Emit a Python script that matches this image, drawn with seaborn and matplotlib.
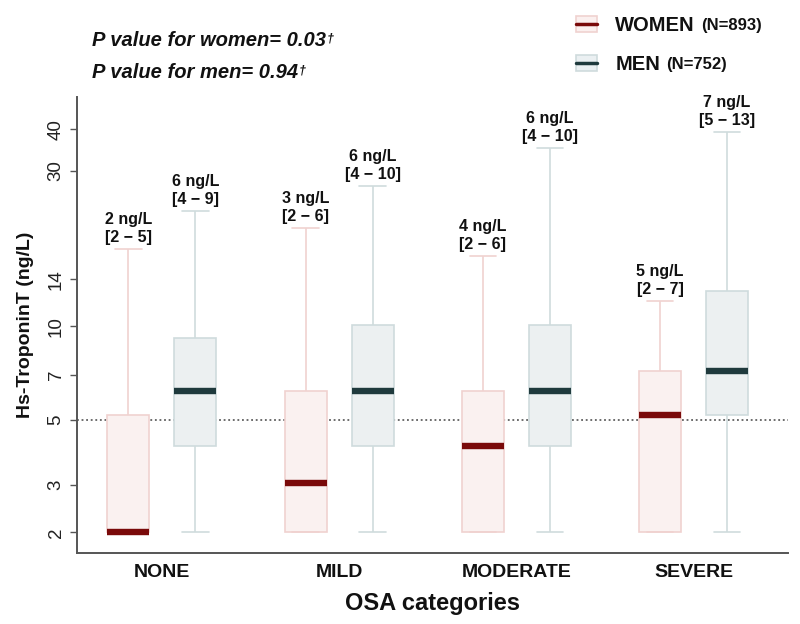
import numpy as np
import pandas as pd
import matplotlib
matplotlib.use("Agg")
import matplotlib.pyplot as plt
import seaborn as sns
from matplotlib.patches import Patch
from matplotlib.lines import Line2D
from matplotlib.legend_handler import HandlerTuple

# ---------------- data ----------------
categories = ["NONE", "MILD", "MODERATE", "SEVERE"]
groups = ["WOMEN", "MEN"]
group_n = ["(N=893)", "(N=752)"]

# five-number summaries (whisker low, Q1, median, Q3, whisker high), ng/L
women_low = [2, 2, 2, 2]
women_q1 = [2, 2, 2, 2]
women_med = [2, 3.05, 4.1, 5.2]
women_q3 = [5.2, 6.2, 6.2, 7.2]
women_high = [17.3, 20.1, 16.5, 12.0]

men_low = [2, 2, 2, 2]
men_q1 = [4.1, 4.1, 4.1, 5.2]
men_med = [6.2, 6.2, 6.2, 7.2]
men_q3 = [9.2, 10.1, 10.1, 12.9]
men_high = [22.7, 27.0, 35.2, 39.3]

women_labels = ["2 ng/L\n[2 \u2212 5]", "3 ng/L\n[2 \u2212 6]", "4 ng/L\n[2 \u2212 6]", "5 ng/L\n[2 \u2212 7]"]
men_labels = ["6 ng/L\n[4 \u2212 9]", "6 ng/L\n[4 \u2212 10]", "6 ng/L\n[4 \u2212 10]", "7 ng/L\n[5 \u2212 13]"]

y_ticks = [2, 3, 5, 7, 10, 14, 30, 40]
ref_line = 5
p_texts = ["P value for women= 0.03", "P value for men= 0.94"]

# ---------------- styling ----------------
sns.set_theme(style="white")
plt.rcParams["font.family"] = ["Liberation Sans", "DejaVu Sans"]

fill = {"WOMEN": "#fbf0ef", "MEN": "#ebf0f2"}
edge = {"WOMEN": "#f0d2d0", "MEN": "#cfdbdd"}
medc = {"WOMEN": "#7a0a0a", "MEN": "#1f3a3d"}
axis_col = "#555555"

rows = []
summ = {
    "WOMEN": (women_low, women_q1, women_med, women_q3, women_high),
    "MEN": (men_low, men_q1, men_med, men_q3, men_high),
}
for g in groups:
    cols = summ[g]
    for i, c in enumerate(categories):
        for arr in cols:
            rows.append({"category": c, "sex": g, "value": arr[i]})
df = pd.DataFrame(rows)

fig = plt.figure(figsize=(8, 6.24), dpi=100)
ax = fig.add_axes([77 / 800, 1 - 553 / 624, (788 - 77) / 800, (553 - 97) / 624])

BW = 0.756
GAP = 0.373
for g in groups:
    sub = df[df["sex"] == g]
    sns.boxplot(
        data=sub, x="category", y="value", hue="sex",
        order=categories, hue_order=groups, dodge=True,
        palette=fill, width=BW, gap=GAP, whis=(0, 100),
        showfliers=False, linewidth=1.2, linecolor=edge[g],
        medianprops=dict(color=medc[g], linewidth=4.6, solid_capstyle="butt"),
        capwidths=0.15, legend=False, ax=ax,
    )


def fwd(y):
    return np.log10(np.maximum(np.asarray(y, dtype=float) + 0.6, 1e-6))


def inv(t):
    return 10 ** np.asarray(t, dtype=float) - 0.6


ax.set_yscale("function", functions=(fwd, inv))
ax.set_ylim(1.66, 50)
ax.set_xlim(-0.479, 3.533)
ax.set_yticks(y_ticks)
ax.set_yticklabels([str(t) for t in y_ticks], rotation=90, va="center", fontsize=13.5,
                   color="#222222")
ax.minorticks_off()
ax.tick_params(axis="y", length=5, width=1, color=axis_col, pad=4, left=True)
ax.tick_params(axis="x", length=0, pad=8)
for lab in ax.get_xticklabels():
    lab.set_fontweight("bold")
    lab.set_fontsize(14)
    lab.set_color("#111111")

ax.axhline(ref_line, ls=(0, (1.2, 1.8)), color="#444444", lw=1.1, zorder=0.5)

for s in ["top", "right"]:
    ax.spines[s].set_visible(False)
for s in ["left", "bottom"]:
    ax.spines[s].set_color(axis_col)
    ax.spines[s].set_linewidth(1.4)

ax.set_ylabel("Hs-TroponinT (ng/L)", fontsize=14, fontweight="bold", labelpad=10,
              color="#111111")
ax.set_xlabel("OSA categories", fontsize=17, fontweight="bold", labelpad=8,
              color="#111111")

# annotations above whiskers
for i in range(len(categories)):
    for g, labs, highs, off in [("WOMEN", women_labels, women_high, -BW / 4),
                                ("MEN", men_labels, men_high, BW / 4)]:
        ax.annotate(labs[i], xy=(i + off, highs[i]), xytext=(0, 3),
                    textcoords="offset points", ha="center", va="bottom",
                    fontsize=11.5, fontweight="bold", linespacing=1.25, color="#111111")

# legend
handles = [(Patch(facecolor=fill[g], edgecolor=edge[g], linewidth=1.2),
            Line2D([], [], color=medc[g], lw=2.5)) for g in groups]
leg = fig.legend(handles, groups, loc="upper left", bbox_to_anchor=(0.700, 1.0),
                 frameon=False, handler_map={tuple: HandlerTuple(ndivide=1, pad=0)},
                 prop={"weight": "bold", "size": 14.5},
                 handlelength=1.05, handleheight=0.85, handletextpad=0.9,
                 labelspacing=1.0, borderaxespad=0.4)
for t in leg.get_texts():
    t.set_color("#111111")

# p-value texts
p_objs = []
for k, t in enumerate(p_texts):
    p_objs.append(fig.text(92 / 800, 1 - (41 + 32 * k) / 624, t, fontsize=14.5,
                           fontweight="bold", fontstyle="italic", va="center", ha="left",
                           color="#111111"))

fig.canvas.draw()
r = fig.canvas.get_renderer()
inv_fig = fig.transFigure.inverted()
for txt, n in zip(leg.get_texts(), group_n):
    bb = txt.get_window_extent(r)
    x0, y0 = inv_fig.transform((bb.x1 + 6, (bb.y0 + bb.y1) / 2))
    fig.text(x0, y0, n, fontsize=12, fontweight="bold", va="center", ha="left", color="#111111")
for txt in p_objs:
    bb = txt.get_window_extent(r)
    x0, y0 = inv_fig.transform((bb.x1 + 1, bb.y1 - 1))
    fig.text(x0, y0, "\u2020", fontsize=9, fontweight="bold", fontstyle="italic",
             va="top", ha="left", color="#111111")

fig.savefig("out.png", dpi=100)
